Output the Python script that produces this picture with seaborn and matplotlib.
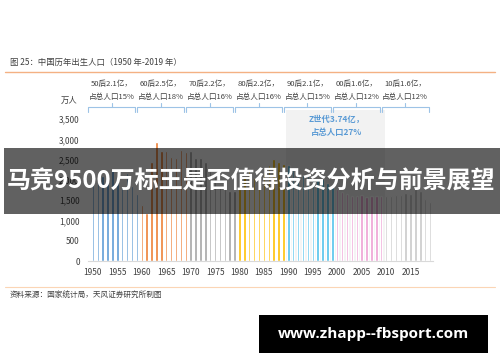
import matplotlib
matplotlib.use("Agg")
import matplotlib.pyplot as plt
import seaborn as sns
import pandas as pd
from matplotlib.patches import Rectangle
from matplotlib.ticker import FuncFormatter

# 中国历年出生人口（万人），1950-2019
years = list(range(1950, 2020))
births = [2023, 2107, 2105, 2151, 2260, 1984, 1825, 2169, 1855, 1647,
          1389, 1188, 2451, 2934, 2721, 2704, 2554, 2543, 2731, 2690,
          2710, 2551, 2550, 2447, 2226, 2102, 1849, 1783, 1733, 1715,
          1776, 2064, 2230, 2052, 2050, 2196, 2374, 2508, 2445, 2396,
          2374, 2250, 2113, 2120, 2098, 2052, 2057, 2028, 1934, 1827,
          1771, 1702, 1647, 1599, 1593, 1617, 1585, 1595, 1608, 1591,
          1592, 1604, 1635, 1640, 1687, 1655, 1786, 1723, 1523, 1465]
decades = ["50后", "60后", "70后", "80后", "90后", "00后", "10后"]
decade_colors = ["#5B9BD5", "#ED7D31", "#A5A5A5", "#FFC000", "#4FC1EC", "#EE9ED3", "#C9C9C9"]
decade_size = ["2.1", "2.5", "2.2", "2.2", "2.1", "1.6", "1.6"]
decade_share = ["15%", "18%", "16%", "16%", "15%", "12%", "12%"]
x_ticks = list(range(1950, 2020, 5))
y_ticks = [0, 500, 1000, 1500, 2000, 2500, 3000, 3500]

df = pd.DataFrame({"year": years, "births": births})
df["decade"] = [decades[(y - 1950) // 10] for y in years]

sns.set_style("white")
plt.rcParams["font.family"] = ["Noto Sans CJK SC", "DejaVu Sans"]

fig = plt.figure(figsize=(5, 3.62), dpi=100)
ax = fig.add_axes([0.176, 0.279, 0.69, 0.392])

sns.barplot(data=df, x="year", y="births", hue="decade", palette=decade_colors,
            native_scale=True, dodge=False, width=0.5, saturation=1,
            legend=False, ax=ax)

ax.set_xlim(1949, 2019.6)
ax.set_ylim(0, 3500)
ax.set_xticks(x_ticks)
ax.set_xticklabels([str(t) for t in x_ticks])
ax.set_yticks(y_ticks)
ax.yaxis.set_major_formatter(FuncFormatter(lambda v, p: f"{int(v):,}"))
ax.set_xlabel("")
ax.set_ylabel("")
for s in ["top", "right", "left"]:
    ax.spines[s].set_visible(False)
ax.spines["bottom"].set_color("#D9D9D9")
ax.tick_params(axis="x", length=3, color="#D9D9D9", labelsize=6, labelcolor="#404040", pad=2)
ax.tick_params(axis="y", length=0, labelsize=6, labelcolor="#404040", pad=6)
ax.grid(False)

# Z世代底色
ax.add_patch(Rectangle((1989.6, 0), 20.2, 3720, facecolor="#F2F2F2", edgecolor="none",
                       zorder=0, clip_on=False))
ax.text(1999.8, 3330, "Z世代3.74亿，\n占总人口27%", ha="center", va="center",
        color="#5B9BD5", fontsize=6, fontweight="bold", linespacing=1.7)

# 年代括号与标注
trans = ax.get_xaxis_transform()
for i, name in enumerate(decades):
    x0 = 1950 + 10 * i - 0.9
    x1 = x0 + 9.6
    xc = (x0 + x1) / 2
    ax.plot([x0, x0, x1, x1], [1.05, 1.085, 1.085, 1.05], color="#9DC3E6",
            lw=0.8, transform=trans, clip_on=False)
    ax.plot([xc, xc], [1.085, 1.115], color="#9DC3E6", lw=0.8, transform=trans, clip_on=False)
    ax.text(xc, 1.2, f"{name}{decade_size[i]}亿，\n占总人口{decade_share[i]}", ha="center",
            va="center", fontsize=5.5, color="#404040", linespacing=1.8, transform=trans)

ax.text(1945.2, 1.13, "万人", ha="center", va="center", fontsize=6, color="#404040",
        transform=trans)

# 标题与来源
fig.text(0.02, 0.828, "图 25：中国历年出生人口（1950 年-2019 年）", fontsize=6,
         color="#404040", va="center")
fig.add_artist(plt.Line2D([0.01, 0.99], [0.801, 0.801], color="#F4B183", lw=1))
fig.add_artist(plt.Line2D([0.01, 0.99], [0.207, 0.207], color="#FBD5B5", lw=0.8))
fig.text(0.02, 0.182, "资料来源：国家统计局，天风证券研究所制图", fontsize=5.5,
         color="#404040", va="center")

# 覆盖横幅
fig.add_artist(Rectangle((0.008, 0.409), 0.992, 0.182, facecolor="black", alpha=0.62,
                         edgecolor="none", transform=fig.transFigure))
fig.text(0.502, 0.497, "马竞9500万标王是否值得投资分析与前景展望", ha="center", va="center",
         fontsize=17.3, color="white", fontweight="bold")

# 网址水印
fig.add_artist(Rectangle((0.518, 0.025), 0.458, 0.105, facecolor="black",
                         edgecolor="none", transform=fig.transFigure))
fig.text(0.747, 0.078, "www.zhapp--fbsport.com", ha="center", va="center",
         fontsize=11, color="white", fontweight="bold", family=["Open Sans", "DejaVu Sans"])

fig.savefig("out.png", dpi=100)
